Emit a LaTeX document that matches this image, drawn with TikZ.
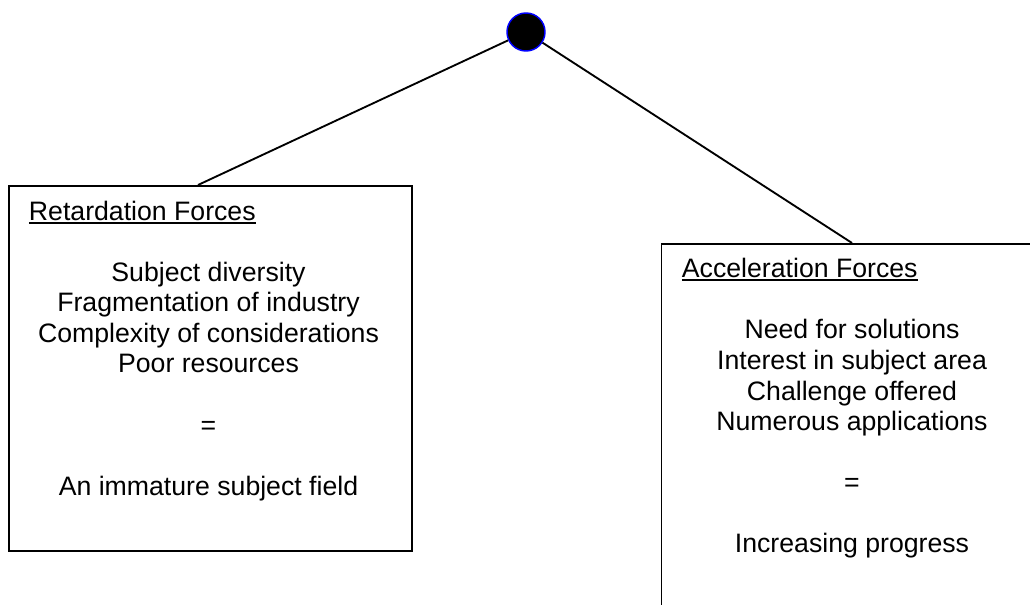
\documentclass[tikz,border=0pt]{standalone}
\usepackage{fontspec}
\setmainfont{Liberation Sans}
\newsavebox{\headbox}
\newcommand{\forcehead}[1]{\sbox{\headbox}{#1}\rlap{\rule[-2.3pt]{\wd\headbox}{1.2pt}}\usebox{\headbox}}

\begin{document}
\begin{tikzpicture}[x=0.75pt,y=-0.75pt,line width=1.4pt,
    every node/.style={font=\fontsize{20}{23}\selectfont},
    ln/.style={anchor=base,inner sep=0pt},
    hd/.style={anchor=base west,inner sep=0pt},
    forcebox/.style={draw,rectangle,anchor=north west,inner sep=0pt,minimum width=302.25pt}]
      \useasboundingbox (0,0) rectangle (1030,605);
      \clip (0,0) rectangle (1030,605);

      \node[circle,fill=black,draw=blue,line width=1.1pt,minimum size=28.5pt,inner sep=0pt] (root) at (526,32) {};

      \node[forcebox,minimum height=273.75pt] (retard) at (8,185) {};
      \node[forcebox,minimum height=312.75pt] (accel) at (660.5,243) {};
      \coordinate (rtop) at (198,185);
      \coordinate (atop) at (852,243);
      \draw (root) -- (rtop);
      \draw (root) -- (atop);

      \node[hd] (rhead) at (28,220.5) {\forcehead{Retardation Forces}};
      \node[ln] (r1) at (208.5,281.5) {Subject diversity};
      \node[ln] (r2) at (208.5,312) {Fragmentation of industry};
      \node[ln] (r3) at (208.5,342.5) {Complexity of considerations};
      \node[ln] (r4) at (208.5,373) {Poor resources};
      \node[ln] (req) at (208.5,434.5) {=};
      \node[ln] (rres) at (208.5,495.5) {An immature subject field};

    \node[hd] (ahead) at (681,277.5) {\forcehead{Acceleration Forces}};
    \node[ln] (a1) at (852,339) {Need for solutions};
    \node[ln] (a2) at (852,369.5) {Interest in subject area};
    \node[ln] (a3) at (852,400) {Challenge offered};
    \node[ln] (a4) at (852,430.5) {Numerous applications};
    \node[ln] (aeq) at (852,491.5) {=};
    \node[ln] (ares) at (852,552.5) {Increasing progress};
  \end{tikzpicture}
\end{document}
